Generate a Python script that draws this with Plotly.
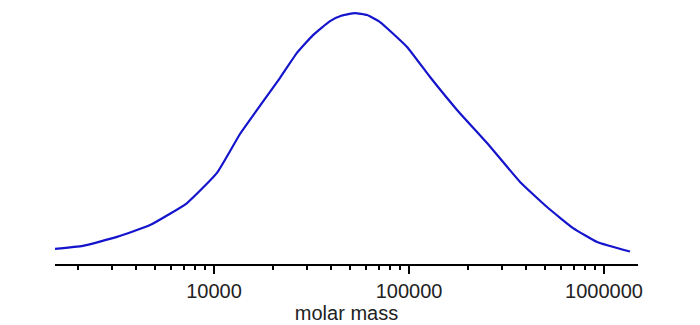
import plotly.graph_objects as go

molar_mass = [1531, 2128, 3184, 4700, 7280, 10360, 13600, 17830, 21780, 26640,
              32200, 39370, 45290, 52840, 60990, 70990, 97700, 128200, 176300,
              251200, 370900, 510000, 693900, 920700, 1358000]
intensity = [0.060, 0.072, 0.108, 0.155, 0.243, 0.363, 0.518, 0.647, 0.741, 0.841,
             0.912, 0.968, 0.990, 1.000, 0.992, 0.964, 0.865, 0.745, 0.614,
             0.482, 0.327, 0.227, 0.143, 0.088, 0.050]
major_ticks = [10000, 100000, 1000000]
major_labels = ["10000", "100000", "1000000"]
minor_ticks = [m * 10 ** e for e in (3, 4, 5, 6) for m in range(2, 10)]

fig = go.Figure()
fig.add_trace(go.Scatter(
    x=molar_mass, y=intensity, mode="lines",
    line=dict(color="rgb(20,20,205)", width=2.2, shape="spline", smoothing=0.4),
    hoverinfo="skip", showlegend=False,
))

fig.update_layout(
    width=700, height=325,
    margin=dict(l=55, r=62, t=5, b=61),
    paper_bgcolor="white", plot_bgcolor="white",
    font=dict(family="Liberation Sans, Arial, sans-serif", color="#222222", size=20),
    xaxis=dict(
        type="log", range=[3.185, 6.174],
        tickmode="array", tickvals=major_ticks, ticktext=major_labels,
        ticks="outside", ticklen=8, tickwidth=1.5, tickcolor="black",
        showline=True, linecolor="black", linewidth=2,
        showgrid=False, zeroline=False,
        minor=dict(tickmode="array", tickvals=minor_ticks, ticks="outside",
                   ticklen=4, tickwidth=1.5, tickcolor="black", showgrid=False),
        title=dict(text="molar mass", standoff=4, font=dict(size=20)),
        tickfont=dict(size=20),
    ),
    yaxis=dict(range=[0, 1.032], visible=False, showgrid=False, zeroline=False),
)

fig.write_html("out.html", config={"displayModeBar": False},
               post_script="document.body.style.margin='0';")
